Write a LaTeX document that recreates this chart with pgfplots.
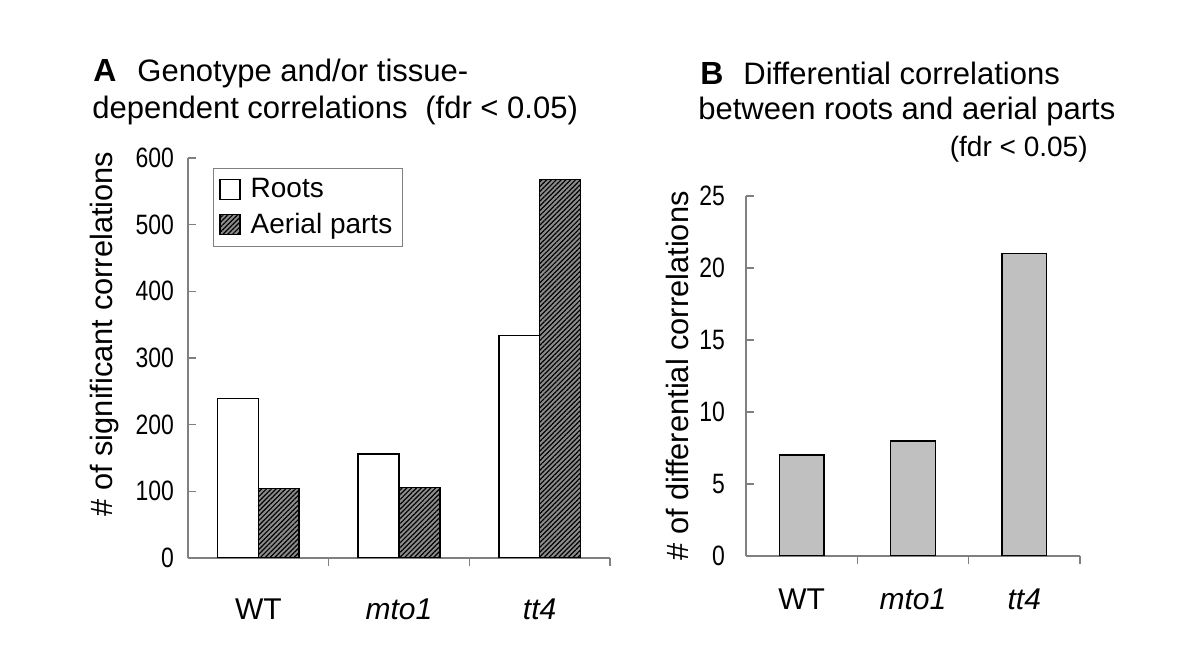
\documentclass[border=0pt]{standalone}
\usepackage{fontspec}
\setmainfont{Liberation Sans}
\newfontfamily\narrowfont{Liberation Sans}[FakeStretch=0.82]
\usepackage{pgfplots}
\pgfplotsset{compat=1.18}
\usetikzlibrary{patterns.meta}
\definecolor{axgray}{RGB}{128,128,128}
\definecolor{silverbar}{RGB}{192,192,192}
\begin{document}
\begin{tikzpicture}
\useasboundingbox (0,0) rectangle (600pt,332pt);
\pgfplotsset{
  common/.style={
    scale only axis,
    axis x line*=bottom, axis y line*=left,
    axis line style={axgray,-, line width=0.6pt},
    every tick/.style={axgray, line width=0.6pt},
    major x tick style={draw=none},
    minor xtick={0.5,1.5,2.5},
    minor tick length=4pt,
    major tick length=4pt,
    xtick={0,1,2},
    xticklabels={WT,\textit{mto1},\textit{tt4}},
    xmin=-0.5, xmax=2.5, ymin=0,
    x tick label style={font=\fontsize{15}{18}\selectfont, anchor=north},
    y tick label style={font=\narrowfont\fontsize{14}{16}\selectfont, anchor=east},
    /pgf/number format/assume math mode=true,
    ylabel style={font=\fontsize{15.4}{18}\selectfont, anchor=center, rotate=0},
  }
}
% Panel A
\begin{axis}[common,
  at={(94pt,53pt)}, anchor=south west,
  width=211pt, height=200pt,
  ymax=600, ytick={0,100,...,600},
  ybar, bar width=0.29,
  x tick label style={yshift=-13pt},
  y tick label style={xshift=-3.5pt},
  ylabel={\# of significant correlations},
  ylabel style={at={(axis description cs:-0.197,0.56)}},
  legend style={at={(axis description cs:0.059,0.975)}, anchor=north west,
    draw=axgray, line width=0.6pt, font=\fontsize{14}{16}\selectfont,
    row sep=2pt, column sep=3pt, inner xsep=3pt, inner ysep=3pt, cells={anchor=west}},
  legend image code/.code={\draw[#1, line width=0.6pt] (0pt,-5pt) rectangle (10pt,5pt);},
]
\addplot[draw=black, line width=0.75pt, fill=white, bar shift=-0.145]
  coordinates {(0,239) (1,156) (2,334)};
\addlegendentry{Roots}
\addplot[draw=black, line width=0.75pt, fill=black!45,
  postaction={pattern={Lines[angle=45,distance=1.7pt,line width=0.6pt]}, pattern color=black},
  bar shift=0.145]
  coordinates {(0,104) (1,106) (2,568)};
\addlegendentry{Aerial parts}
\end{axis}
% Panel B
\begin{axis}[common,
  at={(373pt,54pt)}, anchor=south west,
  width=167pt, height=180pt,
  ymax=25, ytick={0,5,...,25},
  ybar, bar width=0.4, bar shift=0pt,
  x tick label style={yshift=-9pt},
  y tick label style={xshift=-7pt},
  ylabel={\# of differential correlations},
  ylabel style={at={(axis description cs:-0.205,0.5)}},
]
\addplot[draw=black, line width=0.75pt, fill=silverbar]
  coordinates {(0,7) (1,8) (2,21)};
\end{axis}
% Titles
\node[anchor=base west, font=\bfseries\fontsize{16}{18}\selectfont, inner sep=0] at (46.5pt,291pt) {A};
\node[anchor=base west, font=\fontsize{15.5}{18}\selectfont, inner sep=0] at (68.5pt,291pt) {Genotype and/or tissue-};
\node[anchor=base west, font=\fontsize{15.5}{18}\selectfont, inner sep=0] at (46pt,272.5pt) {dependent correlations};
\node[anchor=base west, font=\fontsize{15.5}{16}\selectfont, inner sep=0] at (212.5pt,272.5pt) {(fdr < 0.05)};
\node[anchor=base west, font=\bfseries\fontsize{16}{18}\selectfont, inner sep=0] at (350pt,289.5pt) {B};
\node[anchor=base west, font=\fontsize{15.5}{18}\selectfont, inner sep=0] at (371.5pt,289.5pt) {Differential correlations};
\node[anchor=base west, font=\fontsize{15.5}{18}\selectfont, inner sep=0] at (349pt,272pt) {between roots and aerial parts};
\node[anchor=base east, font=\fontsize{14}{16}\selectfont, inner sep=0] at (544pt,253.5pt) {(fdr < 0.05)};
\end{tikzpicture}
\end{document}
